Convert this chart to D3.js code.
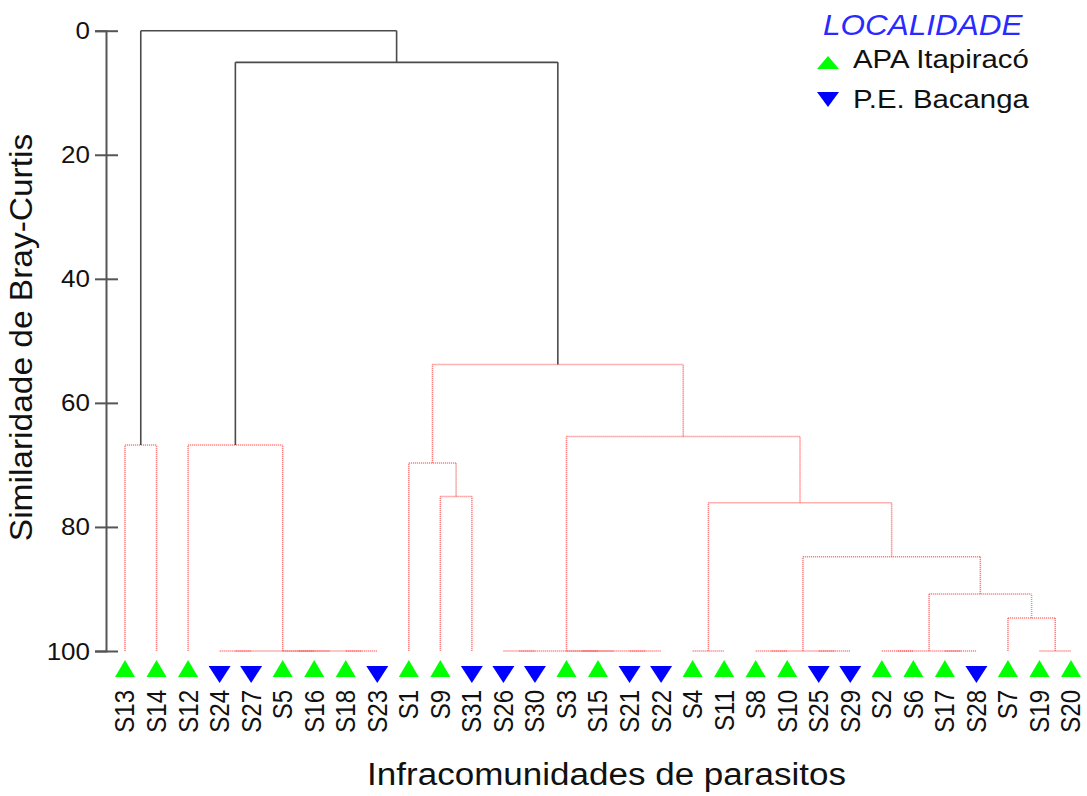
<!DOCTYPE html>
<html>
<head>
<meta charset="utf-8">
<script src="https://cdn.jsdelivr.net/npm/d3@7"></script>
<style>
  html, body { margin: 0; padding: 0; background: #fff; }
  svg { display: block; font-family: "Liberation Sans", Arial, Helvetica, sans-serif; }
</style>
</head>
<body>
<svg id="chart" width="1087" height="796"></svg>
<script>
// ---------------- DATA ----------------
const leaves = ["S13","S14","S12","S24","S27","S5","S16","S18","S23","S1","S9","S31",
  "S26","S30","S3","S15","S21","S22","S4","S11","S8","S10","S25","S29",
  "S2","S6","S17","S28","S7","S19","S20"];
const locality = ["APA","APA","APA","PE","PE","APA","APA","APA","PE","APA","APA","PE",
  "PE","PE","APA","APA","PE","PE","APA","APA","APA","APA","PE","PE",
  "APA","APA","APA","PE","APA","APA","APA"];
// merges: [node id, left child, right child, Bray-Curtis similarity]
const merges = [
  ["n1","S24","S27",100], ["n2","S5","S16",100], ["n3","S18","S23",100],
  ["n4","n2","n3",100], ["n5","n1","n4",100], ["n6","S12","n5",66.8],
  ["n7","S13","S14",66.8], ["n8","S9","S31",75.1], ["n9","S1","n8",69.7],
  ["n10","S26","S30",100], ["n11","S3","S15",100], ["n12","S21","S22",100],
  ["n13","n11","n12",100], ["n14","n10","n13",100], ["n15","S4","S11",100],
  ["n16","S8","S10",100], ["n17","S25","S29",100], ["n18","n16","n17",100],
  ["n19","S2","S6",100], ["n20","S17","S28",100], ["n21","n19","n20",100],
  ["n22","S19","S20",100], ["n23","S7","n22",94.7], ["n24","n21","n23",90.8],
  ["n25","n18","n24",84.8], ["n26","n15","n25",76.1], ["n27","n14","n26",65.4],
  ["n28","n9","n27",53.8], ["n29","n6","n28",5.1], ["n30","n7","n29",0]
];
const upperNodes = ["n29","n30"];   // drawn in black
const yTicks = [0,20,40,60,80,100];
const legendItems = [["APA","APA Itapiracó"],["PE","P.E. Bacanga"]];
const legendTitle = "LOCALIDADE";
const xTitle = "Infracomunidades de parasitos";
const yTitle = "Similaridade de Bray-Curtis";

// ---------------- LAYOUT ----------------
const svg = d3.select("#chart");
const SX = 1.13; // horizontal glyph stretch of reference text
const x = d3.scalePoint().domain(leaves).range([125, 1071]);
const y = d3.scaleLinear().domain([0, 100]).range([30.7, 651]);
const green = "#00ff00", blue = "#0000ff";
const red = "#ff4848", dark = "#4a4a4a";

// compute node positions
const pos = {};
leaves.forEach(l => pos[l] = {x: x(l), h: 100});
merges.forEach(([id, a, b, h]) => {
  pos[id] = {x: (pos[a].x + pos[b].x) / 2, h: h};
});

// ---------------- DENDROGRAM ----------------
const gRed = svg.append("g");
const gBlack = svg.append("g");
merges.forEach(([id, a, b, h]) => {
  const black = upperNodes.includes(id);
  const g = black ? gBlack : gRed;
  const style = sel => black
    ? sel.attr("stroke", dark).attr("stroke-width", 1.6)
    : sel.attr("stroke", red).attr("stroke-width", 1.5).attr("stroke-dasharray", "1.2,0.8").attr("opacity", 0.7);
  // horizontal
  g.append("line")
    .attr("x1", pos[a].x).attr("x2", pos[b].x)
    .attr("y1", y(h)).attr("y2", y(h))
    .attr("fill", "none").call(style);
  // verticals
  [a, b].forEach(c => {
    if (pos[c].h !== h) {
      g.append("line")
        .attr("x1", pos[c].x).attr("x2", pos[c].x)
        .attr("y1", y(pos[c].h)).attr("y2", y(h))
        .call(style);
    }
  });
});

// ---------------- AXIS ----------------
const axisG = svg.append("g").attr("transform", "translate(106,0)")
  .call(d3.axisLeft(y).tickValues(yTicks).tickSizeOuter(0).tickSize(11).tickPadding(5));
axisG.select(".domain").attr("stroke", "#555").attr("stroke-width", 2);
axisG.selectAll(".tick line").attr("x1", 12).attr("x2", -11).attr("stroke", "#555").attr("stroke-width", 2);
axisG.selectAll(".tick text")
  .attr("x", null).attr("dy", "0.35em")
  .attr("transform", "translate(-16,0) scale(" + SX + ",1)")
  .attr("font-size", 23).attr("fill", "#111")
  .attr("font-family", "Liberation Sans, Arial, sans-serif");

// ---------------- LEAF MARKERS & LABELS ----------------
const tri = (cx, type) => type === "APA"
  ? `M${cx-10},677L${cx+10},677L${cx},660Z`
  : `M${cx-11},666L${cx+11},666L${cx},683Z`;
svg.append("g").selectAll("path").data(leaves).join("path")
  .attr("d", (d, i) => tri(x(d), locality[i]))
  .attr("fill", (d, i) => locality[i] === "APA" ? green : blue);

svg.append("g").selectAll("text").data(leaves).join("text")
  .attr("transform", d => `translate(${x(d)},690) scale(${SX},1) rotate(-90)`)
  .attr("text-anchor", "end").attr("dy", "0.35em")
  .attr("font-size", 24).attr("fill", "#111")
  .text(d => d);

// ---------------- TITLES ----------------
svg.append("text")
  .attr("transform", `translate(606.5,785) scale(${SX},1)`)
  .attr("text-anchor", "middle").attr("font-size", 31).attr("fill", "#111")
  .text(xTitle);
svg.append("text")
  .attr("transform", "translate(32,337.5) rotate(-90) scale(1.08,1)")
  .attr("text-anchor", "middle").attr("font-size", 31).attr("fill", "#111")
  .text(yTitle);

// ---------------- LEGEND ----------------
svg.append("text")
  .attr("transform", "translate(823,35) scale(1.05,1)")
  .attr("font-size", 30).attr("font-style", "italic").attr("fill", "#2a2aff")
  .text(legendTitle);
const legTri = {
  APA: "M817,69L839,69L828,56Z",
  PE: "M817,92L839,92L828,107Z"
};
const lg = svg.append("g").selectAll("g").data(legendItems).join("g");
lg.append("path").attr("d", d => legTri[d[0]]).attr("fill", d => d[0] === "APA" ? green : blue);
lg.append("text")
  .attr("transform", (d, i) => `translate(853,${68 + i * 40}) scale(${SX},1)`)
  .attr("font-size", 26).attr("fill", "#111")
  .text(d => d[1]);
</script>
</body>
</html>
